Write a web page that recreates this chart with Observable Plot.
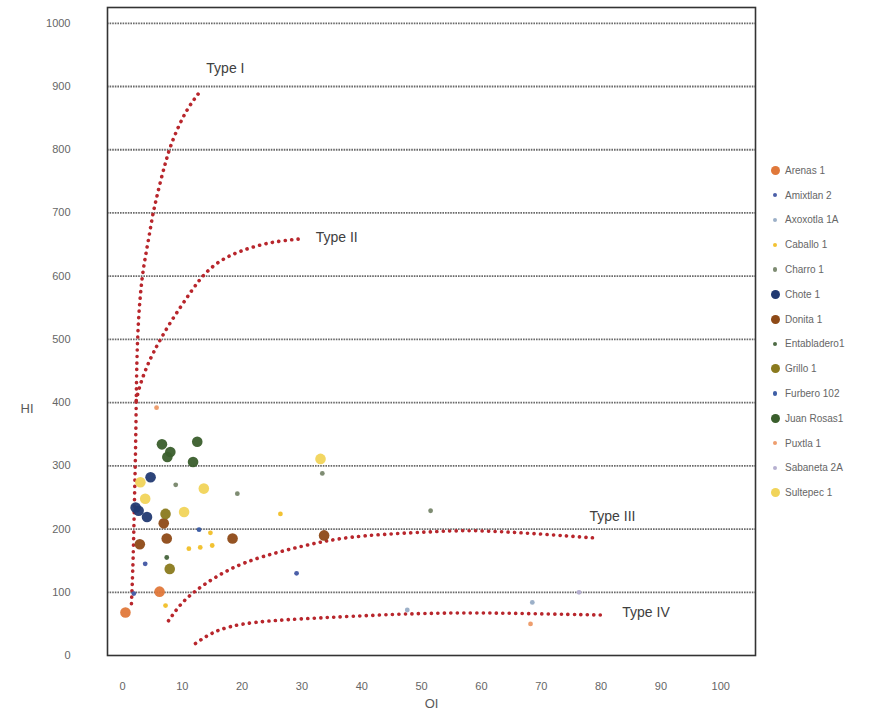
<!DOCTYPE html>
<html>
<head>
<meta charset="utf-8">
<script src="https://cdn.jsdelivr.net/npm/d3@7"></script>
<script src="https://cdn.jsdelivr.net/npm/@observablehq/plot@0.6"></script>
<style>
  html, body { margin: 0; padding: 0; background: #fff; }
  #wrap { position: relative; width: 891px; height: 719px; }
  #legend { position: absolute; left: 769px; top: 158px; font-family: "Liberation Sans Narrow", "Liberation Sans", sans-serif; font-size: 10px; color: #666; }
  .item { height: 24.8px; display: flex; align-items: center; }
  .sw { width: 12px; display: flex; justify-content: center; margin-right: 4px; }
  .sw span { display: block; border-radius: 50%; }
</style>
</head>
<body>
<div id="wrap"><div id="legend"></div></div>
<script>
// Series (legend order)
const seriesNames = ["Arenas 1", "Amixtlan 2", "Axoxotla 1A", "Caballo 1", "Charro 1", "Chote 1", "Donita 1",
  "Entabladero1", "Grillo 1", "Furbero 102", "Juan Rosas1", "Puxtla 1", "Sabaneta 2A", "Sultepec 1"];
const seriesColors = ["#E0783A", "#4B5FA8", "#9CB0C8", "#F2C232", "#7E8C72", "#223A72", "#8E4A17",
  "#4E6B45", "#8A7A1E", "#3F5FA6", "#3A5E2C", "#EE9E6E", "#B6B0D0", "#F1D45A"];
const seriesLarge = [true, false, false, false, false, true, true, false, true, false, true, false, false, true];

// Samples: [series, OI, HI]
const samples = [
  ["Arenas 1", 0.5, 68], ["Arenas 1", 6.2, 101],
  ["Amixtlan 2", 1.9, 98], ["Amixtlan 2", 3.8, 145], ["Amixtlan 2", 29.1, 130],
  ["Axoxotla 1A", 47.6, 72], ["Axoxotla 1A", 68.5, 84],
  ["Caballo 1", 11.1, 169], ["Caballo 1", 13.0, 171], ["Caballo 1", 15.0, 174], ["Caballo 1", 14.7, 194],
  ["Caballo 1", 26.4, 224], ["Caballo 1", 7.2, 79],
  ["Charro 1", 8.9, 270], ["Charro 1", 19.2, 256], ["Charro 1", 33.4, 288], ["Charro 1", 51.5, 229],
  ["Chote 1", 4.7, 282], ["Chote 1", 2.7, 229], ["Chote 1", 4.1, 219], ["Chote 1", 2.2, 234],
  ["Donita 1", 7.4, 185], ["Donita 1", 6.9, 209], ["Donita 1", 18.4, 185], ["Donita 1", 33.7, 190], ["Donita 1", 2.9, 176],
  ["Entabladero1", 7.4, 155],
  ["Grillo 1", 7.9, 137], ["Grillo 1", 7.2, 224],
  ["Furbero 102", 12.8, 199],
  ["Juan Rosas1", 6.6, 334], ["Juan Rosas1", 8.0, 322], ["Juan Rosas1", 7.5, 314], ["Juan Rosas1", 12.5, 338], ["Juan Rosas1", 11.8, 306],
  ["Puxtla 1", 5.7, 392], ["Puxtla 1", 68.2, 50],
  ["Sabaneta 2A", 76.3, 100],
  ["Sultepec 1", 13.6, 264], ["Sultepec 1", 3.8, 248], ["Sultepec 1", 3.0, 274], ["Sultepec 1", 10.3, 227],
  ["Sultepec 1", 33.1, 311]
];

// Kerogen type boundary curves: [OI, HI]
const typeI = [[1.5, 82], [1.8, 150], [2.0, 245], [2.2, 324], [2.3, 403], [2.4, 467], [2.6, 519], [2.9, 562],
  [3.3, 600], [3.8, 630], [4.4, 660], [5.0, 695], [5.6, 720], [6.4, 752], [7.2, 780], [8.0, 806],
  [9.4, 838], [10.9, 866], [12.8, 890]];
const typeII = [[2.3, 403], [2.8, 424], [3.5, 443], [4.3, 462], [5.2, 480], [6.4, 501], [8.0, 527], [9.7, 551],
  [11.4, 575], [13.0, 596], [14.7, 613], [16.9, 628], [19.7, 640], [23.1, 650], [26.4, 656], [29.8, 659]];
const typeIII = [[7.7, 55], [9.7, 82], [12.2, 103], [15.8, 126], [20.3, 148], [26.9, 166], [33.6, 181],
  [39.8, 190], [52.0, 196], [57.6, 198], [63.2, 196], [68.7, 193], [74.4, 189], [78.8, 186]];
const typeIV = [[12.2, 19], [13.9, 30], [16.1, 41], [19.7, 50], [24.7, 55], [29.8, 58], [46.5, 66],
  [58.2, 68], [68.7, 66], [80.4, 64]];
const curveLabels = [["Type I", 17.2, 929], ["Type II", 35.8, 661], ["Type III", 81.9, 220], ["Type IV", 87.5, 68]];

const yTicks = [0, 100, 200, 300, 400, 500, 600, 700, 800, 900, 1000];
const xTicks = [0, 10, 20, 30, 40, 50, 60, 70, 80, 90, 100];

const pts = samples.map(([s, oi, hi]) => ({series: s, oi, hi, large: seriesLarge[seriesNames.indexOf(s)]}));
const curves = [typeI, typeII, typeIII, typeIV];
const dotted = {stroke: "#b8262c", strokeWidth: 3.6, strokeDasharray: "0.1,6.4", strokeLinecap: "round", curve: "basis"};

const chart = Plot.plot({
  width: 891,
  height: 719,
  marginLeft: 107,
  marginRight: 136,
  marginTop: 7,
  marginBottom: 64,
  style: {fontFamily: "'Liberation Sans Narrow', 'Liberation Sans', sans-serif", fontSize: "11px", color: "#666", background: "#fff"},
  x: {domain: [-2.5, 105.8], ticks: xTicks, tickFormat: d => String(d), tickSize: 0, tickPadding: 27, label: null},
  y: {domain: [0, 1025], ticks: yTicks, tickFormat: d => String(d), tickSize: 0, tickPadding: 37, label: null},
  color: {domain: seriesNames, range: seriesColors},
  marks: [
    Plot.ruleY(yTicks.filter(d => d > 0), {stroke: "#6a6a6a", strokeWidth: 1.8, strokeDasharray: "1.6,1"}),
    ...curves.map(c => Plot.line(c, {x: d => d[0], y: d => d[1], ...dotted})),
    Plot.dot(pts.filter(d => !d.large), {x: "oi", y: "hi", fill: "series", r: 2.4}),
    Plot.dot(pts.filter(d => d.large), {x: "oi", y: "hi", fill: "series", r: 5.3, fillOpacity: 0.95}),
    Plot.text(curveLabels, {x: d => d[1], y: d => d[2], text: d => d[0], fontSize: 14, fill: "#404040", textAnchor: "middle"}),
    Plot.text(["HI"], {frameAnchor: "left", dx: -87, dy: 77, text: d => d, fontSize: 13, fill: "#595959"}),
    Plot.text(["OI"], {frameAnchor: "bottom", dy: 52, text: d => d, fontSize: 13, fill: "#595959"}),
    Plot.frame({stroke: "#333", strokeWidth: 1.6})
  ]
});
document.getElementById("wrap").prepend(chart);
chart.style.position = "absolute";
chart.style.left = "0";
chart.style.top = "0";

const legend = document.getElementById("legend");
seriesNames.forEach((n, i) => {
  const it = document.createElement("div");
  it.className = "item";
  const sz = seriesLarge[i] ? 9 : 4.5;
  it.innerHTML = `<div class="sw"><span style="width:${sz}px;height:${sz}px;background:${seriesColors[i]}"></span></div><div>${n}</div>`;
  legend.appendChild(it);
});
</script>
</body>
</html>
